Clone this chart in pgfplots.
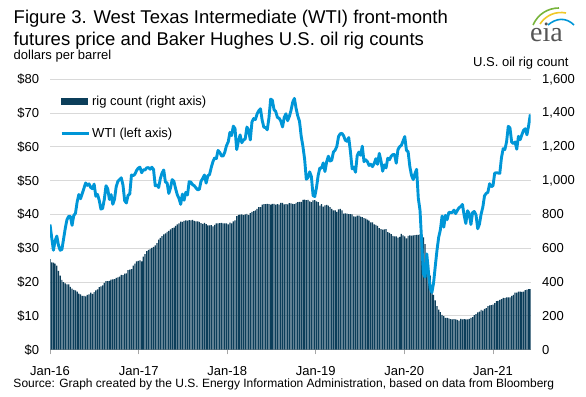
\documentclass[border=0pt]{standalone}
\usepackage{fontspec}
\setmainfont{Liberation Sans}
\newfontfamily\logofont{Liberation Serif}
\usepackage{pgfplots}
\usepackage{pgfplotstable}
\pgfplotsset{compat=1.18}
\definecolor{rigcol}{RGB}{12,62,90}
\definecolor{wticol}{RGB}{0,150,215}
\definecolor{gridcol}{RGB}{217,217,217}
\definecolor{axcol}{RGB}{166,166,166}
\definecolor{logogray}{RGB}{85,85,85}

\pgfplotstableread{
wti rig
37.04 536
33.16 516
29.42 515
32.19 510
33.62 498
30.89 467
29.44 439
29.64 413
32.78 400
35.92 392
38.50 386
39.44 387
39.46 372
36.79 362
39.72 354
40.36 351
43.73 343
45.92 332
44.66 328
46.21 318
47.75 318
49.33 316
48.62 325
49.07 328
47.98 337
47.64 330
48.99 341
45.41 351
45.95 357
44.19 371
41.60 374
41.80 381
44.49 396
48.52 406
47.64 406
44.44 407
45.88 414
43.03 416
44.48 418
48.24 425
49.81 428
50.35 432
50.85 443
48.70 441
44.07 450
43.41 452
45.69 471
46.06 474
51.68 477
51.50 498
51.90 510
53.02 523
53.72 525
53.99 529
52.37 522
53.22 551
53.17 566
53.83 583
53.86 591
53.40 597
53.99 602
53.33 609
48.49 617
48.78 631
47.97 652
50.60 662
52.24 672
53.18 683
49.62 688
49.33 697
46.22 703
47.84 712
50.33 720
49.80 722
47.66 733
45.83 741
44.74 747
43.01 758
46.04 756
44.23 763
46.54 765
45.77 764
49.71 766
49.58 765
48.82 768
48.51 763
47.87 759
47.29 759
47.48 756
49.89 749
50.66 744
51.67 750
49.29 743
51.45 736
51.84 736
53.90 737
55.64 729
56.74 738
56.55 747
58.95 747
58.36 749
57.36 751
57.30 747
58.47 747
60.42 747
61.44 742
64.30 752
63.37 747
66.14 759
65.45 765
59.20 791
61.68 798
63.55 799
61.25 800
62.04 796
62.34 800
65.88 804
64.94 797
62.06 808
67.39 815
68.38 820
68.10 825
69.72 834
70.70 844
71.28 844
67.88 859
65.81 861
65.74 862
65.06 863
68.58 862
74.15 858
73.80 863
71.01 863
70.46 858
68.69 861
68.49 859
67.63 869
65.91 869
68.72 860
69.80 862
67.75 860
68.99 867
70.78 866
73.25 863
74.34 861
71.34 869
69.12 873
67.59 875
63.14 874
60.19 886
56.46 888
50.42 885
50.93 887
52.61 877
51.20 873
45.59 883
45.33 885
47.96 877
51.59 873
53.80 852
53.69 862
55.26 847
52.72 854
55.59 857
57.26 853
55.80 843
56.07 834
58.52 824
59.04 824
60.14 816
63.08 831
63.89 833
64.00 825
63.30 805
61.94 807
61.66 805
62.76 802
58.63 802
53.50 800
53.99 789
52.51 788
57.43 793
58.47 793
57.51 788
60.21 784
55.63 779
56.20 776
55.66 770
54.50 764
54.87 754
54.17 754
55.10 742
56.52 738
54.85 733
58.09 719
55.91 713
52.81 710
54.70 712
53.78 713
56.66 696
56.20 691
57.24 684
57.72 674
57.77 671
55.17 671
59.20 663
60.07 667
60.44 685
61.72 677
63.05 670
59.04 659
58.54 673
54.19 676
51.56 675
50.32 676
52.05 678
53.38 679
44.76 679
41.28 682
31.73 683
22.43 664
21.51 624
28.34 562
22.76 504
18.27 438
16.94 378
19.78 325
24.74 292
29.43 258
33.25 237
35.49 222
39.55 206
36.26 199
39.75 189
38.49 188
40.65 185
40.55 181
40.59 180
41.29 181
40.27 180
41.22 176
42.01 172
42.34 183
42.97 180
39.77 181
37.33 180
41.11 179
40.25 183
37.05 189
40.60 193
40.88 205
39.85 211
35.79 221
37.14 226
40.13 236
42.15 231
45.53 241
46.26 246
46.57 258
49.10 263
48.23 264
48.52 267
52.24 275
52.36 287
52.27 289
52.20 295
56.85 299
59.47 306
59.24 305
61.50 309
66.09 310
65.61 309
61.42 318
60.97 324
61.45 337
59.32 337
63.13 344
62.14 343
63.58 342
64.90 344
65.37 352
63.58 356
66.32 359
69.62 359
}\datatable

\begin{document}
\begin{tikzpicture}
\path[use as bounding box] (0bp,0bp) rectangle (586bp,397bp);
% right axis: rig counts (drawn first, behind)
\begin{axis}[
  at={(50bp,47.3bp)}, anchor=south west, scale only axis,
  width=480.7bp, height=270.4bp,
  xmin=0, xmax=1982.5, ymin=0, ymax=1600,
  enlargelimits=false,
  axis x line*=bottom, axis y line*=right,
  y axis line style={draw=none},
  x axis line style={draw=axcol, line width=0.8bp},
  xtick={0,366,731,1096,1461,1827},
  xticklabels={Jan-16,Jan-17,Jan-18,Jan-19,Jan-20,Jan-21},
  x tick style={draw=axcol, line width=0.8bp},
  tick align=outside, major tick length=4.6bp,
  ytick={0,200,...,1600},
  y tick style={draw=none},
  ymajorgrids, grid style={draw=gridcol, line width=0.8bp},
  tick label style={font=\fontsize{13bp}{15bp}\selectfont},
  yticklabel style={anchor=west, inner sep=0pt, xshift=6.7bp},
  xticklabel style={anchor=base, inner sep=0pt, yshift=-21bp},
  /pgf/number format/.cd, 1000 sep={,}, assume math mode=true,
]
\addplot[ybar, bar width=5, fill=rigcol, draw=none] table[x expr=\coordindex*7, y=rig] {\datatable};
\end{axis}
% left axis: WTI
\begin{axis}[
  at={(50bp,47.3bp)}, anchor=south west, scale only axis,
  width=480.7bp, height=270.4bp,
  xmin=0, xmax=1982.5, ymin=0, ymax=80,
  enlargelimits=false,
  hide x axis, axis y line*=left,
  y axis line style={draw=none}, y tick style={draw=none},
  major tick length=0pt,
  ytick={0,10,...,80},
  yticklabel={\$\pgfmathprintnumber{\tick}},
  tick label style={font=\fontsize{13bp}{15bp}\selectfont},
  yticklabel style={anchor=east, inner sep=0pt, xshift=-10.7bp},
  /pgf/number format/assume math mode=true,
  legend cell align=left,
  legend style={at={(0.0208,0.939)}, anchor=north west, draw=none, fill=none,
    inner sep=0pt, row sep=21bp, column sep=2bp,
    font=\fontsize{13bp}{15bp}\selectfont,
    nodes={inner sep=0pt}},
]
\addlegendimage{legend image code/.code={\fill[rigcol] (0bp,-3bp) rectangle (26bp,3bp);}}
\addlegendentry{rig count (right axis)}
\addplot[wticol, line width=2.9bp, line join=round,
  legend image code/.code={\draw[wticol, line width=2.9bp] (0bp,0bp) -- (27bp,0bp);}]
  table[x expr=\coordindex*7, y=wti] {\datatable};
\addlegendentry{WTI (left axis)}
\end{axis}
% titles and notes
\node[anchor=base west, inner sep=0pt, font=\fontsize{18.5bp}{22bp}\selectfont] at (13.5bp,373bp) {Figure 3. West Texas Intermediate (WTI) front-month};
\node[anchor=base west, inner sep=0pt, font=\fontsize{18.5bp}{22bp}\selectfont] at (13.5bp,351.5bp) {futures price and Baker Hughes U.S. oil rig counts};
\node[anchor=base west, inner sep=0pt, font=\fontsize{13bp}{15bp}\selectfont] at (13.5bp,337bp) {dollars per barrel};
\node[anchor=base west, inner sep=0pt, font=\fontsize{13bp}{15bp}\selectfont] at (473bp,330.5bp) {U.S. oil rig count};
\node[anchor=base west, inner sep=0pt, font=\fontsize{12bp}{14bp}\selectfont] at (13.3bp,9.4bp) {Source: Graph created by the U.S. Energy Information Administration, based on data from Bloomberg};
% eia logo
\node[anchor=base west, inner sep=0pt, text=logogray, font=\logofont\fontsize{28bp}{30bp}\selectfont] at (530bp,355bp) {eia};
\draw[line width=1.6bp, color={rgb,255:red,120;green,180;blue,60}] (533bp,372bp) .. controls (538bp,383bp) and (548bp,389bp) .. (559bp,389bp);
\draw[line width=1.6bp, color={rgb,255:red,240;green,200;blue,40}] (540bp,373bp) .. controls (546bp,382bp) and (556bp,386bp) .. (566bp,384bp);
\draw[line width=1.6bp, color={rgb,255:red,0;green,150;blue,215}] (548bp,372bp) .. controls (556bp,379bp) and (566bp,380bp) .. (574bp,372bp);
\end{tikzpicture}
\end{document}
